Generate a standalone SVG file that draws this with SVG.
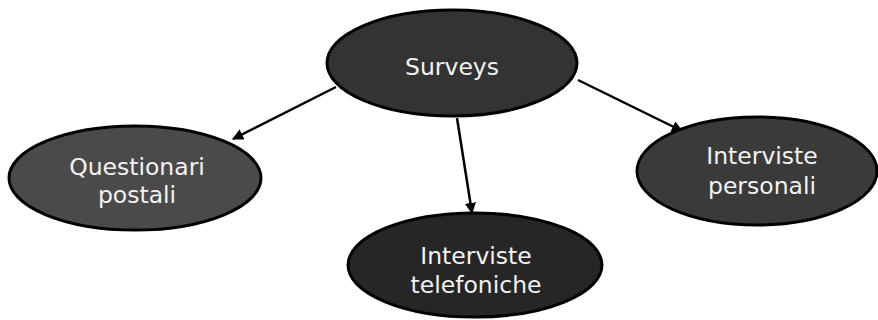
<svg xmlns="http://www.w3.org/2000/svg" width="878" height="320" viewBox="0 0 878 320">
<style>
.node ellipse{stroke:#000;stroke-width:3}
.node text{font-family:"DejaVu Sans",Verdana,sans-serif;font-size:23.5px;fill:#f2f2f2;text-anchor:middle}
.conn line{stroke:#000;stroke-width:2.5;marker-end:url(#ah)}
</style>
<defs>
<marker id="ah" viewBox="0 0 10 10" refX="9" refY="5" markerWidth="4.5" markerHeight="4.5" orient="auto" markerUnits="strokeWidth">
<path d="M0,0 L10,5 L0,10 z" fill="#000"/>
</marker>
</defs>
<g class="conn">
<line x1="336" y1="87" x2="233" y2="139"/>
<line x1="457" y1="118" x2="472" y2="213"/>
<line x1="578" y1="80" x2="682" y2="131"/>
</g>
<g id="surveys" class="node">
<ellipse cx="452" cy="63" rx="125" ry="53" fill="#333333"/>
<text x="452" y="75">Surveys</text>
</g>
<g id="questionari" class="node">
<ellipse cx="135" cy="178" rx="126" ry="52" fill="#4a4a4a"/>
<text x="137" y="175">Questionari</text>
<text x="137" y="203">postali</text>
</g>
<g id="telefoniche" class="node">
<ellipse cx="475" cy="265" rx="127" ry="52" fill="#262626"/>
<text x="476" y="264">Interviste</text>
<text x="476" y="293">telefoniche</text>
</g>
<g id="personali" class="node">
<ellipse cx="757" cy="171" rx="120" ry="54" fill="#3a3a3a"/>
<text x="762" y="164">Interviste</text>
<text x="762" y="194">personali</text>
</g>
</svg>
